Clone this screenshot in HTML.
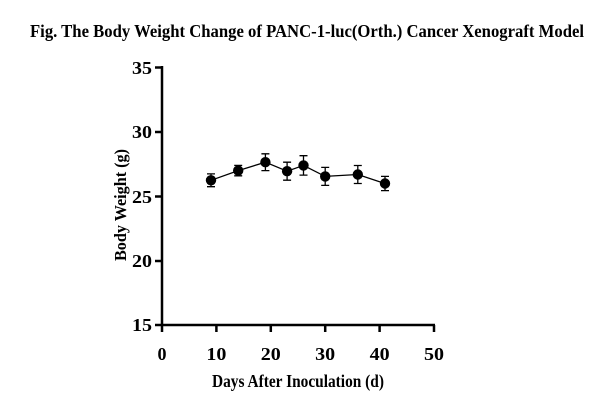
<!DOCTYPE html>
<html><head><meta charset="utf-8"><style>html,body{margin:0;padding:0;background:#fff}</style></head>
<body>
<svg width="600" height="411" xmlns="http://www.w3.org/2000/svg" font-family="'Liberation Serif',serif" font-weight="bold">
<text x="30" y="37" font-size="18" textLength="554" lengthAdjust="spacingAndGlyphs">Fig. The Body Weight  Change of PANC-1-luc(Orth.) Cancer Xenograft Model</text>
<g stroke="#000" stroke-width="2.5" fill="none">
<line x1="162" y1="66" x2="162" y2="326"/>
<line x1="161" y1="325" x2="435" y2="325"/>
<line x1="155" y1="67.5" x2="162" y2="67.5"/>
<line x1="155" y1="132" x2="162" y2="132"/>
<line x1="155" y1="196.5" x2="162" y2="196.5"/>
<line x1="155" y1="261" x2="162" y2="261"/>
<line x1="155" y1="325" x2="162" y2="325"/>
<line x1="162" y1="325" x2="162" y2="332"/>
<line x1="216.4" y1="325" x2="216.4" y2="332"/>
<line x1="270.8" y1="325" x2="270.8" y2="332"/>
<line x1="325.2" y1="325" x2="325.2" y2="332"/>
<line x1="379.6" y1="325" x2="379.6" y2="332"/>
<line x1="434" y1="325" x2="434" y2="332"/>
</g>
<g font-size="18" text-anchor="end">
<text x="152" y="74" textLength="20" lengthAdjust="spacingAndGlyphs">35</text><text x="152" y="138" textLength="20" lengthAdjust="spacingAndGlyphs">30</text><text x="152" y="203" textLength="20" lengthAdjust="spacingAndGlyphs">25</text><text x="152" y="267" textLength="20" lengthAdjust="spacingAndGlyphs">20</text><text x="152" y="331" textLength="20" lengthAdjust="spacingAndGlyphs">15</text>
</g>
<g font-size="18">
<text x="157.5" y="360" textLength="9" lengthAdjust="spacingAndGlyphs">0</text>
<text x="206.4" y="360" textLength="20" lengthAdjust="spacingAndGlyphs">10</text>
<text x="260.8" y="360" textLength="20" lengthAdjust="spacingAndGlyphs">20</text>
<text x="315.2" y="360" textLength="20" lengthAdjust="spacingAndGlyphs">30</text>
<text x="369.6" y="360" textLength="20" lengthAdjust="spacingAndGlyphs">40</text>
<text x="424" y="360" textLength="20" lengthAdjust="spacingAndGlyphs">50</text>
</g>
<text x="212" y="387" font-size="17.5" textLength="172" lengthAdjust="spacingAndGlyphs">Days After Inoculation (d)</text>
<text transform="translate(126,205) rotate(-90)" text-anchor="middle" font-size="17" textLength="112" lengthAdjust="spacingAndGlyphs">Body Weight (g)</text>
<polyline fill="none" stroke="#000" stroke-width="1.3" points="211,180.3 238.2,170.6 265.4,162.2 287.1,171.2 303.5,165.4 325.2,176.4 357.8,174.5 385,183.5"/>
<g stroke="#000" stroke-width="1.3">
<path d="M211,173.9V186.7M207,173.9H215M207,186.7H215"/>
<path d="M238.2,165.4V175.8M234.2,165.4H242.2M234.2,175.8H242.2"/>
<path d="M265.4,153.8V170.6M261.4,153.8H269.4M261.4,170.6H269.4"/>
<path d="M287.1,162.2V180.2M283.1,162.2H291.1M283.1,180.2H291.1"/>
<path d="M303.5,155.7V175.1M299.5,155.7H307.5M299.5,175.1H307.5"/>
<path d="M325.2,167.4V185.4M321.2,167.4H329.2M321.2,185.4H329.2"/>
<path d="M357.8,165.5V183.5M353.8,165.5H361.8M353.8,183.5H361.8"/>
<path d="M385,176.4V190.6M381,176.4H389M381,190.6H389"/>
</g>
<g fill="#000">
<circle cx="211" cy="180.3" r="5.2"/><circle cx="238.2" cy="170.6" r="5.2"/><circle cx="265.4" cy="162.2" r="5.2"/><circle cx="287.1" cy="171.2" r="5.2"/><circle cx="303.5" cy="165.4" r="5.2"/><circle cx="325.2" cy="176.4" r="5.2"/><circle cx="357.8" cy="174.5" r="5.2"/><circle cx="385" cy="183.5" r="5.2"/>
</g>
</svg>
</body></html>
